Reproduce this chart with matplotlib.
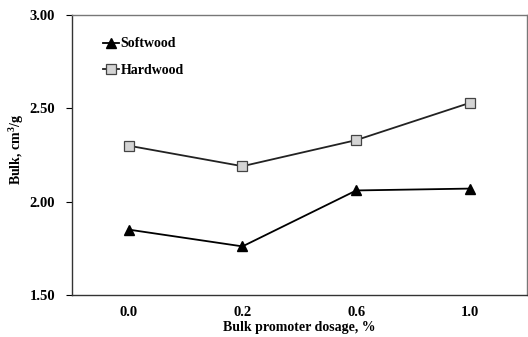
import matplotlib
matplotlib.use('Agg')
import matplotlib.pyplot as plt

dosage = ['0.0', '0.2', '0.6', '1.0']
softwood = [1.85, 1.76, 2.06, 2.07]
hardwood = [2.30, 2.19, 2.33, 2.53]
y_ticks = [1.50, 2.00, 2.50, 3.00]

plt.rcParams['font.family'] = ['Liberation Serif', 'DejaVu Serif']
plt.rcParams['font.weight'] = 'bold'
plt.rcParams['mathtext.fontset'] = 'custom'
plt.rcParams['mathtext.rm'] = 'Liberation Serif:bold'
plt.rcParams['mathtext.it'] = 'Liberation Serif:bold'
plt.rcParams['mathtext.bf'] = 'Liberation Serif:bold'

fig = plt.figure(figsize=(5.28, 3.37), dpi=100)
ax = fig.add_axes([0.136, 0.125, 0.862, 0.830])

x = range(len(dosage))
ax.plot(x, softwood, color='black', lw=1.3, marker='^', ms=7,
        mfc='black', mec='black', label='Softwood')
ax.plot(x, hardwood, color='#222222', lw=1.3, marker='s', ms=7,
        mfc='#d4d4d4', mec='#444444', mew=0.9, label='Hardwood')

ax.set_xlim(-0.5, len(dosage) - 0.5)
ax.set_ylim(1.5, 3.0)
ax.set_xticks(list(x))
ax.set_xticklabels(dosage)
ax.set_yticks(y_ticks)
ax.set_yticklabels(['%.2f' % v for v in y_ticks])
ax.tick_params(axis='x', length=0, pad=8, labelsize=10.5)
ax.tick_params(axis='y', length=4, width=0.8, direction='out', pad=8, labelsize=10.5)

for s in ['left', 'bottom']:
    ax.spines[s].set_color('#333333')
    ax.spines[s].set_linewidth(1.0)
for s in ['top', 'right']:
    ax.spines[s].set_color('#777777')
    ax.spines[s].set_linewidth(1.0)

ax.set_xlabel('Bulk promoter dosage, %', fontsize=10, fontweight='bold')
ax.set_ylabel('Bulk, cm$^3$/g', fontsize=10, fontweight='bold')
ax.xaxis.set_label_coords(0.5, -0.095)
ax.yaxis.set_label_coords(-0.10, 0.52)

leg = ax.legend(loc='upper left', bbox_to_anchor=(0.04, 0.965), frameon=False,
                handlelength=1.2, handletextpad=0.1, labelspacing=1.0,
                prop={'weight': 'bold', 'size': 10})

fig.savefig('out.png', dpi=100)
